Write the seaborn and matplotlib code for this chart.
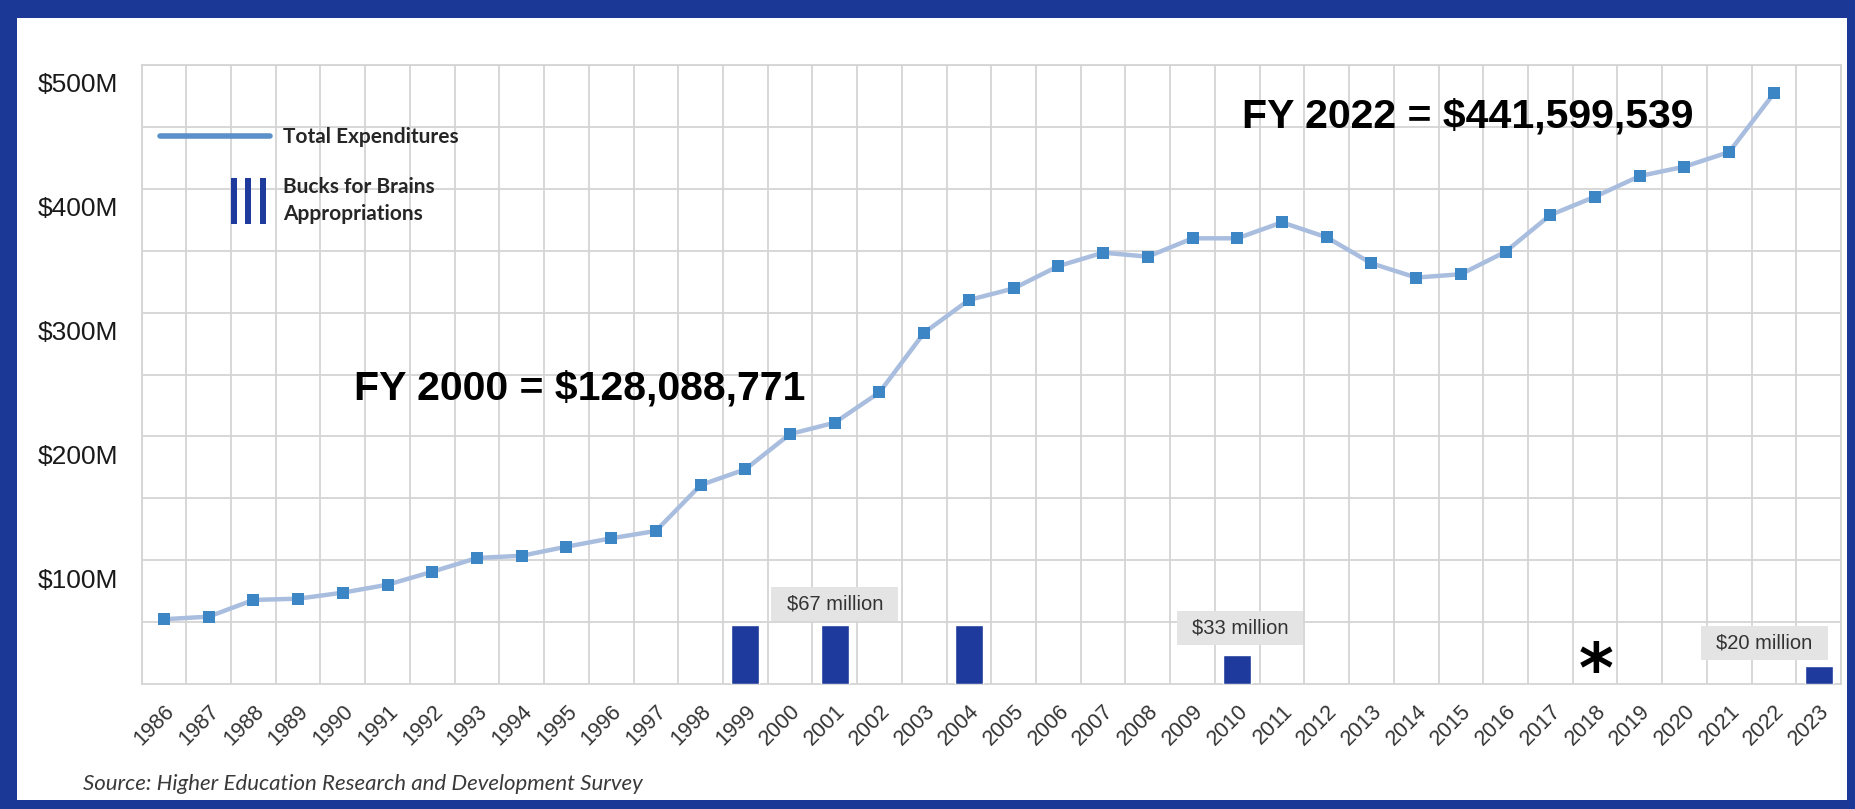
import numpy as np
import matplotlib
matplotlib.use("Agg")
import matplotlib.pyplot as plt
from matplotlib.legend_handler import HandlerBase
from matplotlib.lines import Line2D
from matplotlib.patches import Rectangle
from matplotlib.transforms import ScaledTranslation
import seaborn as sns

# --- data ---
years = list(range(1986, 2024))
line_years = list(range(1986, 2023))
total_exp = [52.3, 54.4, 67.9, 68.9, 73.8, 80.2, 90.7, 101.8, 103.6, 110.9, 117.7, 123.6,
             160.7, 173.4, 201.9, 211.1, 235.6, 283.8, 310.2, 319.5, 337.6, 348.4, 345.2,
             360.0, 360.0, 372.9, 360.8, 339.8, 328.3, 331.0, 349.2, 378.8, 393.6, 410.3,
             417.9, 429.7, 477.1]
bar_years = [1999, 2001, 2004, 2010, 2023]
bar_vals = [67, 67, 67, 33, 20]
label_years = [2001, 2010, 2023]
label_vals = [67, 33, 20]
label_texts = ["$67 million", "$33 million", "$20 million"]
ytick_vals = [100, 200, 300, 400, 500]
ytick_labels = ["$100M", "$200M", "$300M", "$400M", "$500M"]

BORDER = "#1b3896"
BAR_COLOR = "#1d3a9c"
LINE_COLOR = "#a9bddf"
MARKER_COLOR = "#3d86c6"
LEGEND_LINE = "#5b90c8"
GRID = "#d4d4d4"

sns.set_style("white")
plt.rcParams["font.family"] = ["Liberation Sans", "DejaVu Sans"]

W, H = 1855, 809
fig = plt.figure(figsize=(W / 100, H / 100), dpi=100)
fig.patch.set_facecolor(BORDER)
fig.add_artist(Rectangle((17 / W, 9 / H), (1847 - 17) / W, (800 - 18) / H,
                         transform=fig.transFigure, facecolor="white",
                         edgecolor="none", zorder=-1))

left, right, bottom, top = 141.6, 1841, 684, 65
ax = fig.add_axes([left / W, (H - bottom) / H, (right - left) / W, (bottom - top) / H])
ax2 = ax.twinx()

# Bucks for Brains bars on a hidden secondary scale
sns.barplot(x=bar_years, y=bar_vals, order=years, color=BAR_COLOR, saturation=1,
            width=0.62, errorbar=None, ax=ax2)

# Total expenditures line
line_pos = [years.index(y) for y in line_years]
sns.lineplot(x=line_pos, y=total_exp, ax=ax, color=LINE_COLOR, lw=3.2, marker="s",
             markersize=8.5, markerfacecolor=MARKER_COLOR, markeredgecolor=MARKER_COLOR,
             markeredgewidth=0)

ax.set_xlim(-0.5, len(years) - 0.5)
ax.set_ylim(0, 500)
ax2.set_ylim(0, 700)
ax2.set_yticks([])
ax2.set_ylabel("")
ax2.set_xlabel("")
ax.set_xlabel("")
ax.set_ylabel("")
for sp in ax2.spines.values():
    sp.set_visible(False)
for sp in ax.spines.values():
    sp.set_color(GRID)
    sp.set_linewidth(1.3)

# ticks and grid
ax.set_xticks(range(len(years)))
ax.set_xticks(np.arange(-0.5, len(years), 1.0), minor=True)
ax.set_xticklabels([str(y) for y in years], rotation=45, ha="right", va="top",
                   rotation_mode="anchor", fontsize=15.5, color="#333333")
ax.set_yticks(ytick_vals)
ax.set_yticks([50, 150, 250, 350, 450], minor=True)
ax.set_yticklabels(ytick_labels, fontsize=19, color="#1a1a1a")
ax.tick_params(axis="both", which="both", length=0)
ax.tick_params(axis="y", pad=17)
ax.tick_params(axis="x", pad=12)
ax.grid(which="both", color=GRID, lw=1.3)
ax.xaxis.grid(which="major", visible=False)
ax.set_axisbelow(True)
# the dollar labels sit a little below their gridlines in the original
shift = ScaledTranslation(0, -18 / 100, fig.dpi_scale_trans)
for lab in ax.get_yticklabels():
    lab.set_transform(lab.get_transform() + shift)

# value boxes above bars
offsets = [(0, 15), (2, 19), (-39, 17)]
for yr, v, txt, (dx, dy) in zip(label_years, label_vals, label_texts, offsets):
    ax2.annotate(txt, xy=(years.index(yr), v), xytext=(dx, dy), textcoords="offset points",
                 ha="center", va="center", fontsize=14.5, color="#333333",
                 bbox=dict(boxstyle="square,pad=0.75", mutation_aspect=0.5,
                           facecolor="#e4e4e4", edgecolor="none"))

ax2.text(0.8558, 0.018, "*", transform=ax2.transAxes, ha="center", va="center",
         fontsize=48, fontweight="bold", color="black", family="DejaVu Sans")

ax2.text(0.258, 0.478, "FY 2000 = $128,088,771", transform=ax2.transAxes,
         ha="center", va="center", fontsize=29.5, fontweight="bold", color="black")
ax2.text(0.7805, 0.916, "FY 2022 = $441,599,539", transform=ax2.transAxes,
         ha="center", va="center", fontsize=29.5, fontweight="bold", color="black")


class BarsHandler(HandlerBase):
    def create_artists(self, legend, orig_handle, xdescent, ydescent, width, height,
                       fontsize, trans):
        h = 2.2 * fontsize
        w = 0.29 * fontsize
        y0 = height / 2 - ydescent - h / 2
        arts = []
        for f in (0.67, 0.795, 0.935):
            arts.append(Rectangle((f * width - xdescent - w / 2, y0), w, h,
                                  facecolor=BAR_COLOR, edgecolor="none", transform=trans))
        return arts


line_proxy = Line2D([], [], color=LEGEND_LINE, lw=4)
bars_proxy = Rectangle((0, 0), 1, 1)
leg = ax2.legend([line_proxy, bars_proxy],
                 ["Total Expenditures", "Bucks for Brains\nAppropriations"],
                 handler_map={bars_proxy: BarsHandler()}, loc="upper left",
                 bbox_to_anchor=(0.0108, 0.90), frameon=False, handlelength=5.3,
                 handletextpad=0.6, labelspacing=1.45, borderpad=0, borderaxespad=0,
                 prop={"family": "Lato", "weight": "bold", "size": 15})
leg.get_texts()[1].set_linespacing(1.4)

fig.text(83 / W, (H - 784) / H, "Source: Higher Education Research and Development Survey",
         ha="left", va="center", fontsize=16, style="italic", color="#3a3a3a",
         family="Lato")

fig.savefig("out.png", dpi=100, facecolor=fig.get_facecolor())
